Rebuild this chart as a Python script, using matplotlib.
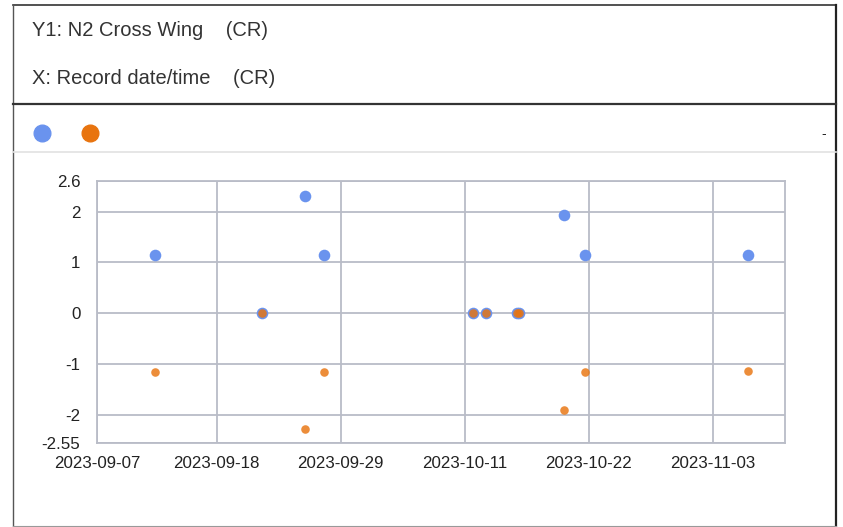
import numpy as np
import pandas as pd
import matplotlib
matplotlib.use("Agg")
import matplotlib.pyplot as plt
import matplotlib.dates as mdates
from matplotlib.lines import Line2D

plt.rcParams['font.family'] = ['Liberation Sans', 'DejaVu Sans']

# data
fechas = pd.to_datetime([
    "2023-09-12 09:00", "2023-09-22 08:00", "2023-09-26 07:00", "2023-09-28 01:00",
    "2023-10-11 20:00", "2023-10-13 00:00", "2023-10-15 21:00", "2023-10-16 03:00",
    "2023-10-20 06:00", "2023-10-22 06:00", "2023-11-06 08:00",
])
serie_azul = [1.15, 0, 2.31, 1.15, 0, 0, 0, 0, 1.93, 1.15, 1.15]
serie_naranja = [-1.15, 0, -2.27, -1.15, 0, 0, 0, 0, -1.9, -1.15, -1.14]

y_ticks = [2.6, 2, 1, 0, -1, -2, -2.55]
y_labels = ["2.6", "2", "1", "0", "-1", "-2", "-2.55"]
x_ticks = pd.to_datetime(["2023-09-07 00:00", "2023-09-18 02:00", "2023-09-29 14:00",
                          "2023-10-11 02:00", "2023-10-22 14:00", "2023-11-03 02:00"])
x_labels = ["2023-09-07", "2023-09-18", "2023-09-29", "2023-10-11", "2023-10-22", "2023-11-03"]
x_min, x_max = pd.Timestamp("2023-09-07 00:00"), pd.Timestamp("2023-11-09 18:00")

titulo_y = "Y1: N2 Cross Wing    (CR)"
titulo_x = "X: Record date/time    (CR)"

AZUL = "#6a93ee"
NARANJA = "#e8740f"
GRIS = "#b9bcc7"

W, H = 843, 527
fig = plt.figure(figsize=(W / 100, H / 100), dpi=100)

def px(x, y):
    return x / W, 1 - y / H

# marco exterior y separadores
def linea(x0, y0, x1, y1, color, lw):
    a, b = px(x0, y0)
    c, d = px(x1, y1)
    fig.add_artist(Line2D([a, c], [b, d], color=color, lw=lw, transform=fig.transFigure))

linea(13, 5, 836, 5, "#333333", 1.2)
linea(13, 5, 13, 526, "#555555", 1.0)
linea(836, 5, 836, 526, "#222222", 1.6)
linea(13, 526, 836, 526, "#999999", 0.8)
linea(13, 104, 836, 104, "#333333", 1.6)
linea(13, 152, 836, 152, "#e2e2e2", 1.2)

fig.text(*px(32, 30), titulo_y, fontsize=14.5, color="#333333", va="center")
fig.text(*px(32, 79), titulo_x, fontsize=14.5, color="#333333", va="center")

# leyenda
fig.add_artist(Line2D([px(42, 0)[0]], [px(0, 133)[1]], marker="o", markersize=12,
                      color=AZUL, lw=0, transform=fig.transFigure))
fig.add_artist(Line2D([px(90, 0)[0]], [px(0, 133)[1]], marker="o", markersize=12,
                      color=NARANJA, lw=0, transform=fig.transFigure))
fig.text(*px(824, 134), "-", fontsize=10, color="#222222", ha="center", va="center")

# area del grafico
l, b = px(97, 443)
ax = fig.add_axes([l, b, (785 - 97) / W, (443 - 181) / H])
ax.scatter(fechas, serie_azul, s=70, color=AZUL, zorder=3, linewidths=0)
ax.scatter(fechas, serie_naranja, s=38, color=NARANJA, alpha=0.82, zorder=4, linewidths=0)

ax.set_xlim(x_min, x_max)
ax.set_ylim(-2.55, 2.6)
ax.set_yticks(y_ticks)
ax.set_yticklabels(y_labels)
ax.set_xticks(x_ticks)
ax.set_xticklabels(x_labels)
ax.tick_params(length=0, labelsize=12.2, colors="#222222")
ax.tick_params(axis="y", pad=12)
ax.tick_params(axis="x", pad=9)
ax.grid(True, color=GRIS, lw=1.3)
ax.set_axisbelow(True)
for s in ax.spines.values():
    s.set_color(GRIS)
    s.set_linewidth(1.3)

fig.savefig("out.png", dpi=100)
plt.close(fig)
